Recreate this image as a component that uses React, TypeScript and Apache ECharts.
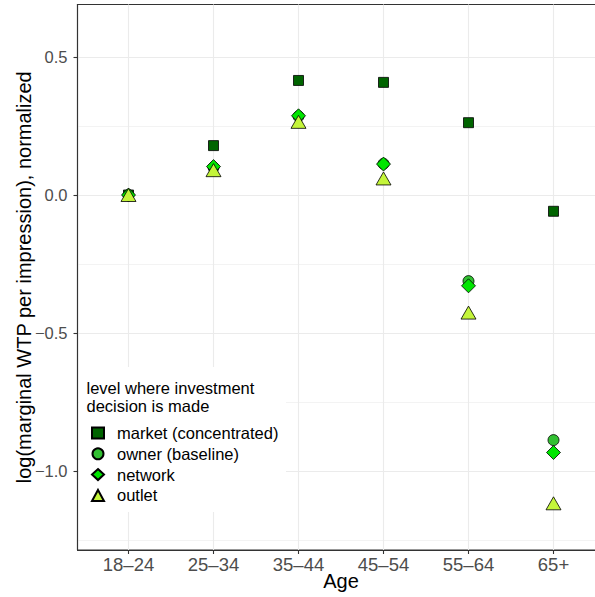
import React, { useEffect, useRef } from "react";
import * as echarts from "echarts";

const ageGroups = ["18–24", "25–34", "35–44", "45–54", "55–64", "65+"];
const seriesNames = ["market (concentrated)", "owner (baseline)", "network", "outlet"];
const marketValues = [0, 0.179, 0.415, 0.408, 0.262, -0.059];
const ownerValues = [0, 0.1, 0.285, 0.113, -0.312, -0.888];
const networkValues = [0, 0.103, 0.287, 0.112, -0.329, -0.933];
const outletValues = [0, 0.09, 0.265, 0.06, -0.426, -1.117];
const majorYTicks = [-1, -0.5, 0, 0.5];
const minorYTicks = [-1.25, -0.75, -0.25, 0.25];
const xTicks = [0, 1, 2, 3, 4, 5];

const FONT = "'Liberation Sans', Arial, Helvetica, sans-serif";

export default function App() {
  const ref = useRef<HTMLDivElement>(null);
  useEffect(() => {
    if (!ref.current) return;
    const chart = echarts.init(ref.current, null, { renderer: "svg" });
    const toPts = (vals: number[]) => vals.map((v, i) => [i, v]);
    const mk = (
      name: string,
      vals: number[],
      symbol: string,
      size: number | number[],
      color: string,
      z: number
    ) => ({
      name,
      type: "scatter",
      data: toPts(vals),
      symbol,
      symbolSize: size,
      z,
      itemStyle: { color, borderColor: "#000", borderWidth: 0.8, opacity: 1 },
      emphasis: { disabled: true },
    });
    chart.setOption({
      animation: false,
      textStyle: { fontFamily: FONT },
      grid: {
        left: 77.5,
        top: 4.5,
        width: 527,
        height: 545.5,
        show: true,
        borderColor: "#333333",
        borderWidth: 1.1,
        backgroundColor: "#fff",
        outerBoundsMode: "none",
        containLabel: false,
      },
      xAxis: {
        type: "value",
        min: -0.6,
        max: 5.6,
        name: "Age",
        nameLocation: "middle",
        nameGap: 21,
        nameMoveOverlap: false,
        nameTextStyle: { fontSize: 20, color: "#000", fontFamily: FONT },
        axisLine: { show: true, onZero: false, lineStyle: { color: "#333333", width: 1.1 } },
        axisTick: { show: true, length: 4, customValues: xTicks, lineStyle: { color: "#333333", width: 1.1 } },
        axisLabel: {
          customValues: xTicks,
          fontSize: 18.5,
          fontFamily: FONT,
          color: "#4d4d4d",
          margin: 5,
          formatter: (v: number) => ageGroups[Math.round(v)] ?? "",
        },
        splitLine: { show: true, lineStyle: { color: "#ebebeb", width: 1.1 } },
      },
      yAxis: [
        {
          type: "value",
          min: -1.2862,
          max: 0.6902,
          name: "log(marginal WTP per impression), normalized",
          nameLocation: "middle",
          nameGap: 44,
          nameMoveOverlap: false,
          nameTextStyle: { fontSize: 20, color: "#000", fontFamily: FONT },
          axisLine: { show: true, onZero: false, lineStyle: { color: "#333333", width: 1.1 } },
          axisTick: { show: true, length: 4, customValues: majorYTicks, lineStyle: { color: "#333333", width: 1.1 } },
          axisLabel: {
            customValues: majorYTicks,
            fontSize: 16.5,
            fontFamily: FONT,
            color: "#4d4d4d",
            margin: 10,
            formatter: (v: number) => (v < 0 ? "\u2212" + Math.abs(v).toFixed(1) : v.toFixed(1)),
          },
          splitLine: { show: true, lineStyle: { color: "#ebebeb", width: 1.1 } },
        },
        {
          type: "value",
          min: -1.2862,
          max: 0.6902,
          position: "left",
          axisLine: { show: false, onZero: false },
          axisTick: { show: false, customValues: minorYTicks },
          axisLabel: { show: false, customValues: minorYTicks },
          splitLine: { show: true, lineStyle: { color: "#ebebeb", width: 0.6 } },
        },
      ],
      legend: {
        orient: "vertical",
        left: 91,
        top: 424.5,
        padding: 0,
        itemWidth: 12,
        itemHeight: 11,
        itemGap: 3.8,
        z: 6,
        selectedMode: false,
        data: seriesNames,
        textStyle: { fontSize: 16.5, color: "#000", lineHeight: 16.5, padding: [0, 0, 0, 8] },
      },
      graphic: [
        {
          type: "rect",
          z: 4,
          shape: { x: 79, y: 367, width: 207, height: 145 },
          style: { fill: "#fff" },
        },
        {
          type: "text",
          z: 5,
          x: 86.5,
          y: 378.5,
          style: {
            text: "level where investment\ndecision is made",
            font: `16.5px ${FONT}`,
            lineHeight: 18.4,
            fill: "#000",
          },
        },
      ],
      series: [
        mk(seriesNames[0], marketValues, "rect", 10, "#006400", 2),
        mk(seriesNames[1], ownerValues, "circle", 11, "#32c032", 3),
        mk(seriesNames[2], networkValues, "diamond", [14, 14], "#00e600", 4),
        mk(seriesNames[3], outletValues, "triangle", [15, 13], "#c4f53a", 5),
      ],
    });
    return () => chart.dispose();
  }, []);
  return (
    <div
      ref={ref}
      style={{ position: "absolute", left: 0, top: 0, width: 595, height: 597 }}
    />
  );
}
